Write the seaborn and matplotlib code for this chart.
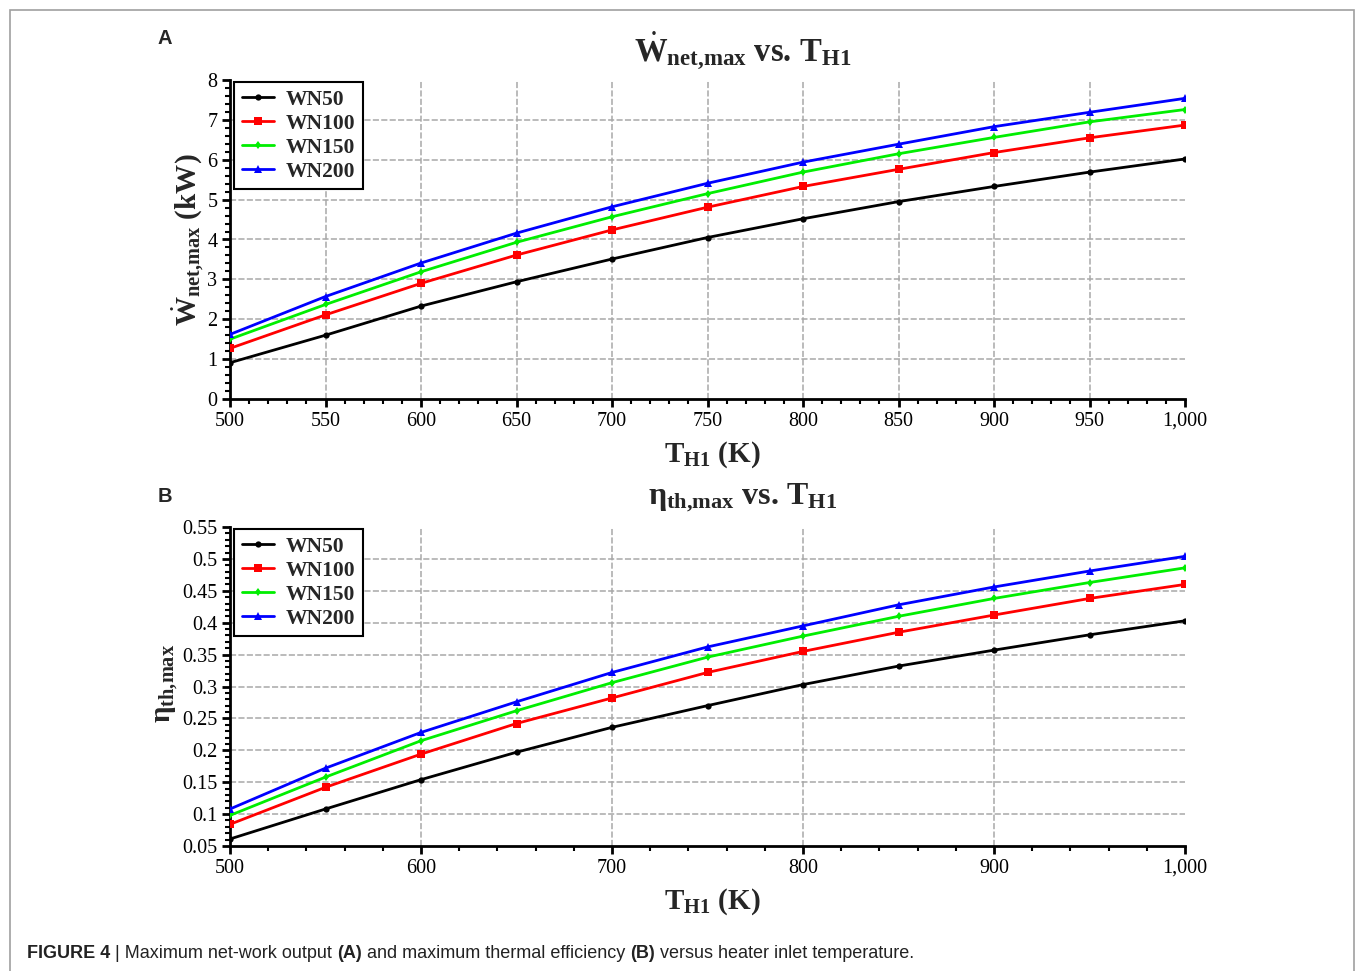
import matplotlib
matplotlib.use("Agg")
import matplotlib.pyplot as plt
import seaborn as sns
import numpy as np
import pandas as pd
from matplotlib.ticker import MultipleLocator, FuncFormatter, FixedLocator
from matplotlib.patches import Rectangle

# ---------------- data ----------------
temps = [500, 550, 600, 650, 700, 750, 800, 850, 900, 950, 1000]
series_names = ["WN50", "WN100", "WN150", "WN200"]

wnet_wn50 = [0.91, 1.60, 2.33, 2.94, 3.51, 4.05, 4.52, 4.95, 5.33, 5.69, 6.02]
wnet_wn100 = [1.27, 2.11, 2.90, 3.61, 4.24, 4.81, 5.33, 5.76, 6.18, 6.55, 6.87]
wnet_wn150 = [1.50, 2.37, 3.19, 3.93, 4.57, 5.15, 5.69, 6.15, 6.56, 6.95, 7.26]
wnet_wn200 = [1.62, 2.57, 3.41, 4.16, 4.82, 5.41, 5.94, 6.39, 6.83, 7.19, 7.54]

eta_wn50 = [0.061, 0.108, 0.154, 0.197, 0.236, 0.270, 0.303, 0.332, 0.357, 0.381, 0.403]
eta_wn100 = [0.084, 0.142, 0.194, 0.242, 0.282, 0.322, 0.355, 0.385, 0.412, 0.438, 0.460]
eta_wn150 = [0.098, 0.158, 0.215, 0.262, 0.306, 0.346, 0.379, 0.410, 0.438, 0.463, 0.486]
eta_wn200 = [0.108, 0.172, 0.228, 0.276, 0.322, 0.362, 0.395, 0.428, 0.456, 0.481, 0.504]

top_xticks = [500, 550, 600, 650, 700, 750, 800, 850, 900, 950, 1000]
top_yticks = [0, 1, 2, 3, 4, 5, 6, 7, 8]
bot_xticks = [500, 600, 700, 800, 900, 1000]
bot_yticks = [0.05, 0.1, 0.15, 0.2, 0.25, 0.3, 0.35, 0.4, 0.45, 0.5, 0.55]

wnet_data = [wnet_wn50, wnet_wn100, wnet_wn150, wnet_wn200]
eta_data = [eta_wn50, eta_wn100, eta_wn150, eta_wn200]

# ---------------- style ----------------
sns.set_theme(style="white")
SERIF = "Liberation Serif"
plt.rcParams["font.family"] = [SERIF, "DejaVu Serif"]
plt.rcParams["mathtext.fontset"] = "custom"
plt.rcParams["mathtext.rm"] = SERIF
plt.rcParams["mathtext.bf"] = SERIF + ":bold"
plt.rcParams["mathtext.it"] = SERIF + ":italic"

colors = ["#000000", "#ff0000", "#00ee00", "#0000ff"]
markers = ["o", "s", "d", "^"]
msizes = [4.5, 6.0, 4.5, 5.5]

W, H = 1355, 971
fig = plt.figure(figsize=(W / 100, H / 100), dpi=100)

def px_rect(l, t, r, b):
    return [l / W, 1 - b / H, (r - l) / W, (b - t) / H]

ax1 = fig.add_axes(px_rect(230, 80, 1185, 399))
ax2 = fig.add_axes(px_rect(230, 527, 1185, 846))

def draw(ax, data):
    for name, vals, c, m, ms in zip(series_names, data, colors, markers, msizes):
        df = pd.DataFrame({"T": temps, "v": vals})
        sns.lineplot(data=df, x="T", y="v", ax=ax, color=c, marker=m,
                     markersize=ms, markeredgewidth=0, linewidth=2.0,
                     label=name, zorder=3)

draw(ax1, wnet_data)
draw(ax2, eta_data)

def style_axes(ax, xt, yt, xminor, yminor, ylim, yfmt):
    ax.set_xlim(500, 1000)
    ax.set_ylim(*ylim)
    ax.xaxis.set_major_locator(FixedLocator(xt))
    ax.yaxis.set_major_locator(FixedLocator(yt))
    ax.xaxis.set_minor_locator(MultipleLocator(xminor))
    ax.yaxis.set_minor_locator(MultipleLocator(yminor))
    ax.xaxis.set_major_formatter(FuncFormatter(lambda v, p: f"{v:,.0f}"))
    ax.yaxis.set_major_formatter(FuncFormatter(yfmt))
    for s in ["top", "right"]:
        ax.spines[s].set_visible(False)
    for s in ["left", "bottom"]:
        ax.spines[s].set_color("black")
        ax.spines[s].set_linewidth(2.0)
    ax.tick_params(which="major", direction="out", length=6, width=2,
                   color="black", labelsize=14.5, pad=3, labelcolor="black")
    ax.tick_params(which="minor", direction="out", length=3.5, width=1.5,
                   color="black")
    ax.tick_params(axis="both", which="both", bottom=True, left=True)
    ax.grid(True, which="major", color="#a8a8a8", linestyle=(0, (4, 1.5)),
            linewidth=1.1, zorder=0)
    ax.set_axisbelow(True)
    # hide gridlines lying on the axes frame
    xg = ax.xaxis.get_gridlines()
    yg = ax.yaxis.get_gridlines()
    xg[0].set_visible(False); xg[-1].set_visible(False)
    yg[0].set_visible(False); yg[-1].set_visible(False)
    ax.set_facecolor("white")

style_axes(ax1, top_xticks, top_yticks, 10, 0.2, (0, 8), lambda v, p: f"{v:g}")
style_axes(ax2, bot_xticks, bot_yticks, 20, 0.01, (0.05, 0.55), lambda v, p: f"{v:g}")

for ax in (ax1, ax2):
    leg = ax.legend(loc="upper left", bbox_to_anchor=(0.002, 1.0), frameon=True,
                    fancybox=False, edgecolor="black", framealpha=1,
                    prop={"family": SERIF, "weight": "bold", "size": 15.5},
                    handlelength=1.5, labelspacing=0.18, borderpad=0.35,
                    handletextpad=0.55, borderaxespad=0.1)
    leg.get_frame().set_linewidth(1.5)

# axis labels
lab_kw = dict(fontsize=21, fontweight="bold", family=SERIF)
ax1.set_xlabel(r"$\mathbf{T}_{\mathbf{H1}}$ (K)", **lab_kw)
ax1.xaxis.set_label_coords(0.505, -0.176)
ax1.xaxis.label.set_va("center")
ax2.set_xlabel(r"$\mathbf{T}_{\mathbf{H1}}$ (K)", **lab_kw)
ax2.xaxis.set_label_coords(0.505, -0.176)
ax2.xaxis.label.set_va("center")

ax1.set_ylabel(r"$\dot{\mathbf{W}}_{\mathbf{net{,}max}}$ (kW)", **lab_kw)
ax1.yaxis.label.set_va("center")
ax1.yaxis.set_label_coords(-0.044, 0.50)
ax2.set_ylabel(r"$\mathbf{\eta}_{\mathbf{th{,}max}}$", **lab_kw)
ax2.yaxis.label.set_va("center")
ax2.yaxis.set_label_coords(-0.067, 0.511)

# titles
ttl_kw = dict(fontweight="bold", family=SERIF, ha="center", va="center")
ax1.set_title(r"$\dot{\mathbf{W}}_{\mathbf{net{,}max}}$ vs. $\mathbf{T}_{\mathbf{H1}}$",
              x=0.537, y=1.066, fontsize=23.5, **ttl_kw)
ax2.set_title(r"$\mathbf{\eta}_{\mathbf{th{,}max}}$ vs. $\mathbf{T}_{\mathbf{H1}}$",
              x=0.537, y=1.066, fontsize=23, **ttl_kw)

# panel letters
fig.text(165 / W, 1 - 39 / H, "A", family="Liberation Sans", fontweight="bold",
         fontsize=14.5, ha="center", va="center")
fig.text(165 / W, 1 - 496 / H, "B", family="Liberation Sans", fontweight="bold",
         fontsize=14.5, ha="center", va="center")

# border
fig.patches.append(Rectangle((10 / W, -0.05), (1354 - 10) / W, 1.05 - 10 / H,
                             transform=fig.transFigure, fill=False,
                             edgecolor="#a0a0a0", linewidth=1.2))

# caption, pieces with mixed weights
from matplotlib import font_manager
names = {f.name for f in font_manager.fontManager.ttflist}
cap_family = "Liberation Sans Narrow" if "Liberation Sans Narrow" in names else "Liberation Sans"
pieces = [("FIGURE 4", "bold"), (" | Maximum net-work output ", "normal"), ("(A)", "bold"),
          (" and maximum thermal efficiency ", "normal"), ("(B)", "bold"),
          (" versus heater inlet temperature.", "normal")]

renderer = fig.canvas.get_renderer()
target_w = 913 - 27

def layout_caption(fs):
    texts = []
    x = 27
    for s, wgt in pieces:
        t = fig.text(x / W, 1 - 953 / H, s, family=cap_family, fontweight=wgt,
                     fontsize=fs, ha="left", va="center", color="#222222")
        bb = t.get_window_extent(renderer)
        x += bb.width
        texts.append(t)
    return texts, x - 27

fs = 12.0
texts, wtot = layout_caption(fs)
for t in texts:
    t.remove()
fs = fs * target_w / wtot
texts, wtot = layout_caption(fs)

fig.savefig("out.png", dpi=100, facecolor="white")
